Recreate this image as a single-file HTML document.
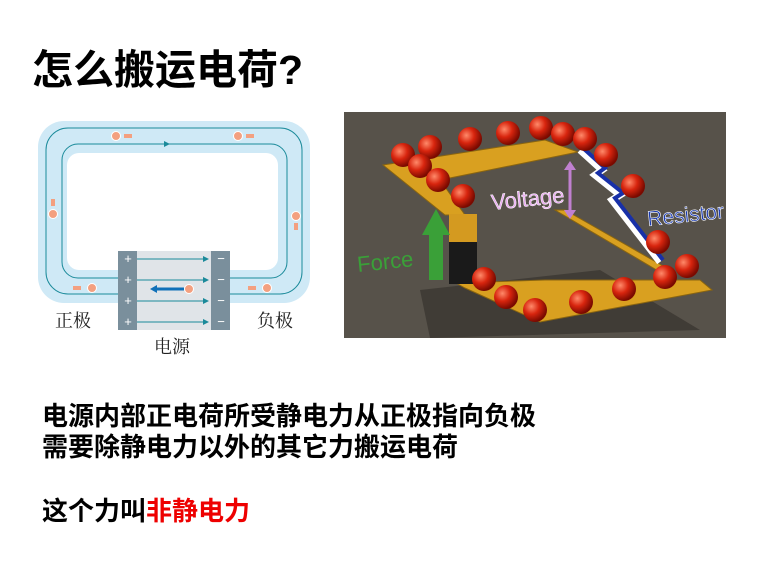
<!DOCTYPE html>
<html><head><meta charset="utf-8"><style>
body{margin:0;width:784px;height:585px;background:#fff;overflow:hidden;position:relative;font-family:"Liberation Sans","Noto Sans CJK SC",sans-serif}
.t{position:absolute;left:32px;top:45px;font-size:41px;line-height:50px;font-weight:bold;color:#000}
.l{position:absolute;left:42px;font-size:26px;line-height:30px;font-weight:bold;color:#000}
</style></head><body>
<div class="t">怎么搬运电荷?</div>
<svg width="784" height="585" style="position:absolute;left:0;top:0">
<defs>
<marker id="a" markerWidth="6" markerHeight="6" refX="5" refY="3" orient="auto"><path d="M0,0 L6,3 L0,6z" fill="#1a8a9a"/></marker>
<radialGradient id="b" cx="35%" cy="35%" r="65%"><stop offset="0" stop-color="#ff8a6a"/><stop offset=".5" stop-color="#d8250e"/><stop offset="1" stop-color="#7a0a00"/></radialGradient>
</defs>
<rect x="38" y="121" width="272" height="182" rx="26" fill="#cfe9f6"/>
<rect x="67" y="153" width="211" height="117" rx="12" fill="#fff"/>
<rect x="46" y="128" width="256" height="166" rx="22" fill="none" stroke="#1a8a9a" stroke-width="1"/>
<rect x="62" y="144" width="225" height="134" rx="16" fill="none" stroke="#1a8a9a" stroke-width="1"/>
<path d="M165,128h4M165,144h4" stroke="#1a8a9a" marker-end="url(#a)"/>
<rect x="118" y="251" width="112" height="79" fill="#e0e4e8"/>
<rect x="118" y="251" width="19" height="79" fill="#7a8f9c"/>
<rect x="211" y="251" width="19" height="79" fill="#7a8f9c"/>
<g stroke="#1a8a9a" stroke-width="1"><line x1="137" y1="259" x2="208" y2="259" marker-end="url(#a)"/><line x1="137" y1="280" x2="208" y2="280" marker-end="url(#a)"/><line x1="137" y1="301" x2="208" y2="301" marker-end="url(#a)"/><line x1="137" y1="322" x2="208" y2="322" marker-end="url(#a)"/></g>
<g fill="#fff" font-size="13" text-anchor="middle"><text x="128" y="263">+</text><text x="128" y="284">+</text><text x="128" y="305">+</text><text x="128" y="326">+</text><text x="221" y="263">−</text><text x="221" y="284">−</text><text x="221" y="305">−</text><text x="221" y="326">−</text></g>
<path d="M184,289h-30" stroke="#1070b8" stroke-width="3"/><path d="M150,289l7,-4v8z" fill="#1070b8"/>
<g fill="#f3a080" stroke="#fff" stroke-width="1"><circle cx="189" cy="289" r="4.5"/><circle cx="116" cy="136" r="4.5"/><circle cx="238" cy="136" r="4.5"/><circle cx="53" cy="214" r="4.5"/><circle cx="296" cy="216" r="4.5"/><circle cx="92" cy="288" r="4.5"/><circle cx="267" cy="288" r="4.5"/></g>
<g fill="#f3a080"><rect x="124" y="134" width="8" height="4"/><rect x="246" y="134" width="8" height="4"/><rect x="51" y="199" width="4" height="7"/><rect x="294" y="223" width="4" height="7"/><rect x="73" y="286" width="8" height="4"/><rect x="248" y="286" width="8" height="4"/></g>
<g font-family="Liberation Serif,Noto Serif CJK SC,serif" font-size="18" fill="#222"><text x="55" y="327">正极</text><text x="257" y="327">负极</text><text x="154" y="353">电源</text></g>
<rect x="344" y="112" width="382" height="226" fill="#57524a"/>
<path d="M420,290 L600,270 L700,330 L430,338z" fill="#403c36"/>
<g fill="#d9a020" stroke="#8a6510" stroke-width="1"><path d="M383,165 L545,140 L578,152 L440,180 L465,215 L445,215z"/><path d="M555,210 L565,210 L670,270 L660,272z"/><path d="M456,283 L545,280 L700,280 L712,290 L540,322 L465,288z"/></g>
<rect x="449" y="214" width="28" height="70" fill="#1a1a1a"/><rect x="449" y="214" width="28" height="28" fill="#d49a20"/>
<path d="M429,280v-45h-7l14,-26l14,26h-7v45z" fill="#3aa038"/>
<path d="M580,150 L602,170 L595,175 L620,195 L612,200 L660,262" stroke="#fff" stroke-width="7" fill="none"/>
<path d="M583,148 L605,168 L598,173 L623,193 L615,198 L663,260" stroke="#1830a8" stroke-width="4" fill="none"/>
<path d="M570,165v50" stroke="#c080d0" stroke-width="3"/><path d="M564,170l6,-9l6,9zM564,210l6,9l6,-9z" fill="#c080d0"/>
<g font-size="22" font-family="Liberation Sans,sans-serif"><text x="358" y="272" fill="#3aa038" transform="rotate(-6 358 272)">Force</text><text x="492" y="210" fill="#e8a8f0" stroke="#fff" stroke-width=".5" transform="rotate(-6 492 210)">Voltage</text><text x="648" y="226" fill="#1a3ab0" stroke="#fff" stroke-width=".6" font-size="21" transform="rotate(-6 648 226)">Resistor</text></g>
<g fill="url(#b)"><circle cx="403" cy="155" r="12"/><circle cx="430" cy="147" r="12"/><circle cx="470" cy="139" r="12"/><circle cx="508" cy="133" r="12"/><circle cx="541" cy="128" r="12"/><circle cx="563" cy="134" r="12"/><circle cx="585" cy="139" r="12"/><circle cx="606" cy="155" r="12"/><circle cx="420" cy="166" r="12"/><circle cx="438" cy="180" r="12"/><circle cx="463" cy="196" r="12"/><circle cx="633" cy="186" r="12"/><circle cx="658" cy="242" r="12"/><circle cx="484" cy="279" r="12"/><circle cx="506" cy="297" r="12"/><circle cx="535" cy="310" r="12"/><circle cx="581" cy="302" r="12"/><circle cx="624" cy="289" r="12"/><circle cx="665" cy="277" r="12"/><circle cx="687" cy="266" r="12"/></g>
</svg>
<div class="l" style="top:401px">电源内部正电荷所受静电力从正极指向负极</div>
<div class="l" style="top:432px">需要除静电力以外的其它力搬运电荷</div>
<div class="l" style="top:496px">这个力叫<span style="color:#e00">非静电力</span></div>
</body></html>
